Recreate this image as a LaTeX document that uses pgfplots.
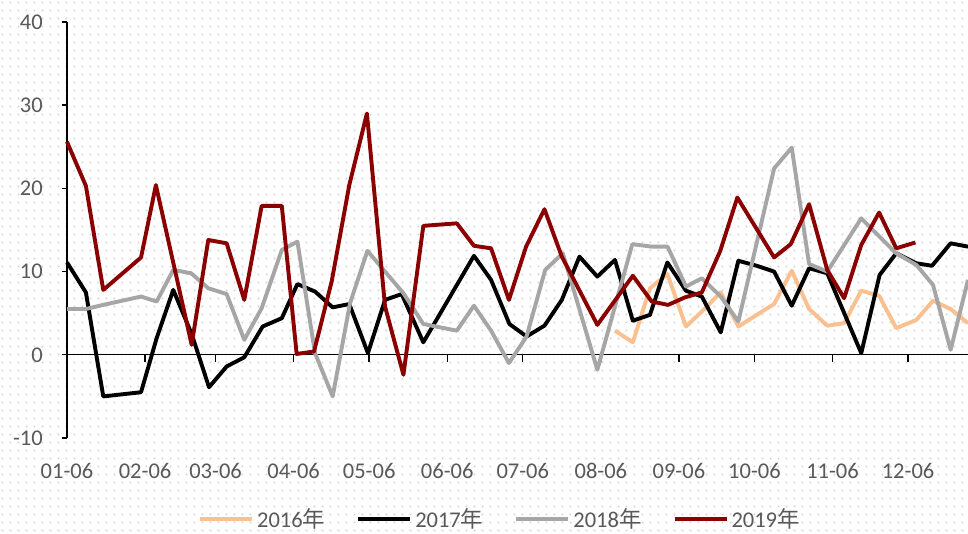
\documentclass[border=0pt]{standalone}
\usepackage{pgfplots}
\pgfplotsset{compat=1.18}
\usepackage{pgfplotstable}
\usepackage{fontspec}
\setmainfont{Carlito}
\newfontfamily\cjk{Noto Sans CJK SC}
\usetikzlibrary{patterns.meta}
\definecolor{c16}{RGB}{250,192,143}
\definecolor{c18}{RGB}{166,166,166}
\definecolor{c19}{RGB}{139,0,0}
\definecolor{lbl}{RGB}{89,89,89}
\definecolor{dotc}{RGB}{212,212,212}
\tikzdeclarepattern{
  name=bgdots,
  bottom left={(0pt,0pt)},
  top right={(8pt,8pt)},
  tile size={(8pt,8pt)},
  code={\pgfpathrectangle{\pgfpoint{3pt}{3pt}}{\pgfpoint{1.8pt}{1.8pt}}\pgfusepath{fill}}
}

\pgfplotstableread{
x y
217.6 2.9
224.7 1.5
231.5 8.0
238.4 9.7
245.8 3.4
252.1 5.2
259.6 7.5
266.6 3.4
273.9 4.8
280.8 6.1
287.8 10.1
294.7 5.5
301.9 3.5
308.6 3.8
315.4 7.7
322.5 7.1
329.3 3.2
337.3 4.2
343.9 6.5
350.9 5.5
357.8 3.8
}\dA

\pgfplotstableread{
x y
0 11.1
7.5 7.5
14.4 -5.0
29.4 -4.5
35.6 2.0
42.2 7.8
49.5 2.5
56.4 -3.9
63.4 -1.4
70.4 -0.3
77.7 3.4
85.3 4.4
91.5 8.5
98.5 7.6
105.5 5.7
112.1 6.1
119.5 0.2
126.3 6.6
132.9 7.3
141.5 1.5
161.6 11.9
168.4 9.0
175.7 3.7
182.5 2.2
189.6 3.5
196.5 6.6
203.5 11.8
210.6 9.4
217.6 11.4
224.7 4.1
231.5 4.8
238.4 11.1
245.8 7.7
252.1 7.0
259.6 2.7
266.6 11.3
273.9 10.7
280.8 10.0
287.8 5.9
294.7 10.4
301.9 9.8
315.4 0.2
322.7 9.6
329.3 12.2
337.3 11.0
343.5 10.7
350.9 13.4
357.8 13.0
}\dB

\pgfplotstableread{
x y
0 5.5
7.5 5.5
14.4 6.0
29.4 7.0
35.6 6.4
42.2 10.2
49.3 9.8
56.1 8.0
63.4 7.3
70.4 1.8
77.3 5.6
85.3 12.6
91.5 13.6
98.5 0.2
105.5 -5.0
112.4 6.2
119.3 12.5
133.6 7.4
141.5 3.7
154.8 2.9
161.6 5.9
168.4 2.9
175.5 -1.0
182.5 2.2
189.9 10.2
196.9 12.2
210.6 -1.8
224.5 13.3
232.2 13.0
238.5 13.0
245.8 8.2
252.1 9.2
259.6 7.0
266.6 4.0
280.8 22.4
287.8 24.9
294.7 10.9
301.9 10.0
315.4 16.4
329.3 12.2
337.3 10.8
343.9 8.4
350.9 0.6
357.8 9.0
}\dC

\pgfplotstableread{
x y
0 25.6
7.5 20.3
14.4 7.8
29.4 11.7
35.3 20.4
49.5 1.2
56.1 13.8
63.4 13.4
70.4 6.6
77.3 17.9
85.3 17.9
91.2 0.1
98.1 0.4
105.1 8.8
112.1 20.4
119.1 29.0
126.3 5.8
133.6 -2.4
141.5 15.5
154.8 15.8
161.6 13.1
168.4 12.8
175.5 6.6
182.3 13.0
189.6 17.5
196.5 11.8
210.6 3.6
224.7 9.5
232.2 6.4
238.7 6.0
245.4 6.9
252.1 7.5
259.3 12.4
266.2 18.9
280.8 11.7
287.4 13.3
294.7 18.1
301.9 10.2
308.6 6.8
315.4 13.2
322.5 17.1
329.3 12.8
336.9 13.5
}\dD

\begin{document}
\begin{tikzpicture}[x=1pt,y=1pt]
\useasboundingbox (0,0) rectangle (968,534);
\fill[white] (0,0) rectangle (968,534);
\fill[pattern=bgdots, pattern color=dotc] (0,0) rectangle (968,534);
\begin{axis}[
  at={(67pt,96pt)}, anchor=south west,
  scale only axis, width=901pt, height=416pt,
  xmin=0, xmax=357.8, ymin=-10, ymax=40,
  axis y line*=left,
  axis x line*=bottom,
  x axis line style={draw=none},
  y axis line style={line width=1.4pt, black},
  ytick={-10,0,10,20,30,40},
  yticklabels={-10,0,10,20,30,40},
  ytick style={line width=1.4pt, black},
  major tick length=5pt,
  tick align=outside,
  xtick={0,31,59,90,120,151,181,212,243,273,304,334},
  xticklabels={01-06,02-06,03-06,04-06,05-06,06-06,07-06,08-06,09-06,10-06,11-06,12-06},
  xtick style={draw=none},
  ticklabel style={font=\fontsize{22.5}{27}\selectfont, text=lbl},
  xticklabel style={anchor=base, yshift=-36pt},
  yticklabel style={anchor=east, inner sep=0pt, xshift=-19pt},
  clip=false,
  legend columns=4,
  legend style={at={(axis description cs:0.481,-0.194)}, anchor=center,
    draw=none, fill=none, font=\fontsize{22.5}{27}\selectfont, text=lbl,
    /tikz/every even column/.append style={column sep=28pt},
    nodes={inner sep=3pt}},
  legend image code/.code={\draw[#1, line width=4pt] (0pt,0pt) -- (52pt,0pt);},
  every axis plot/.append style={line width=3.9pt, line join=round, no markers},
]
\draw[black, line width=1.4pt] (axis cs:0,0) -- (axis cs:357.8,0);
\pgfplotsinvokeforeach{31,59,90,120,151,181,212,243,273,304,334}{
  \draw[black, line width=1.4pt] (axis cs:#1,0) -- ++(0pt,-7pt);
}
\addplot[c16] table[x=x,y=y] {\dA};
\addlegendentry{2016{\cjk 年}}
\addplot[black] table[x=x,y=y] {\dB};
\addlegendentry{2017{\cjk 年}}
\addplot[c18] table[x=x,y=y] {\dC};
\addlegendentry{2018{\cjk 年}}
\addplot[c19] table[x=x,y=y] {\dD};
\addlegendentry{2019{\cjk 年}}
\end{axis}
\end{tikzpicture}
\end{document}
